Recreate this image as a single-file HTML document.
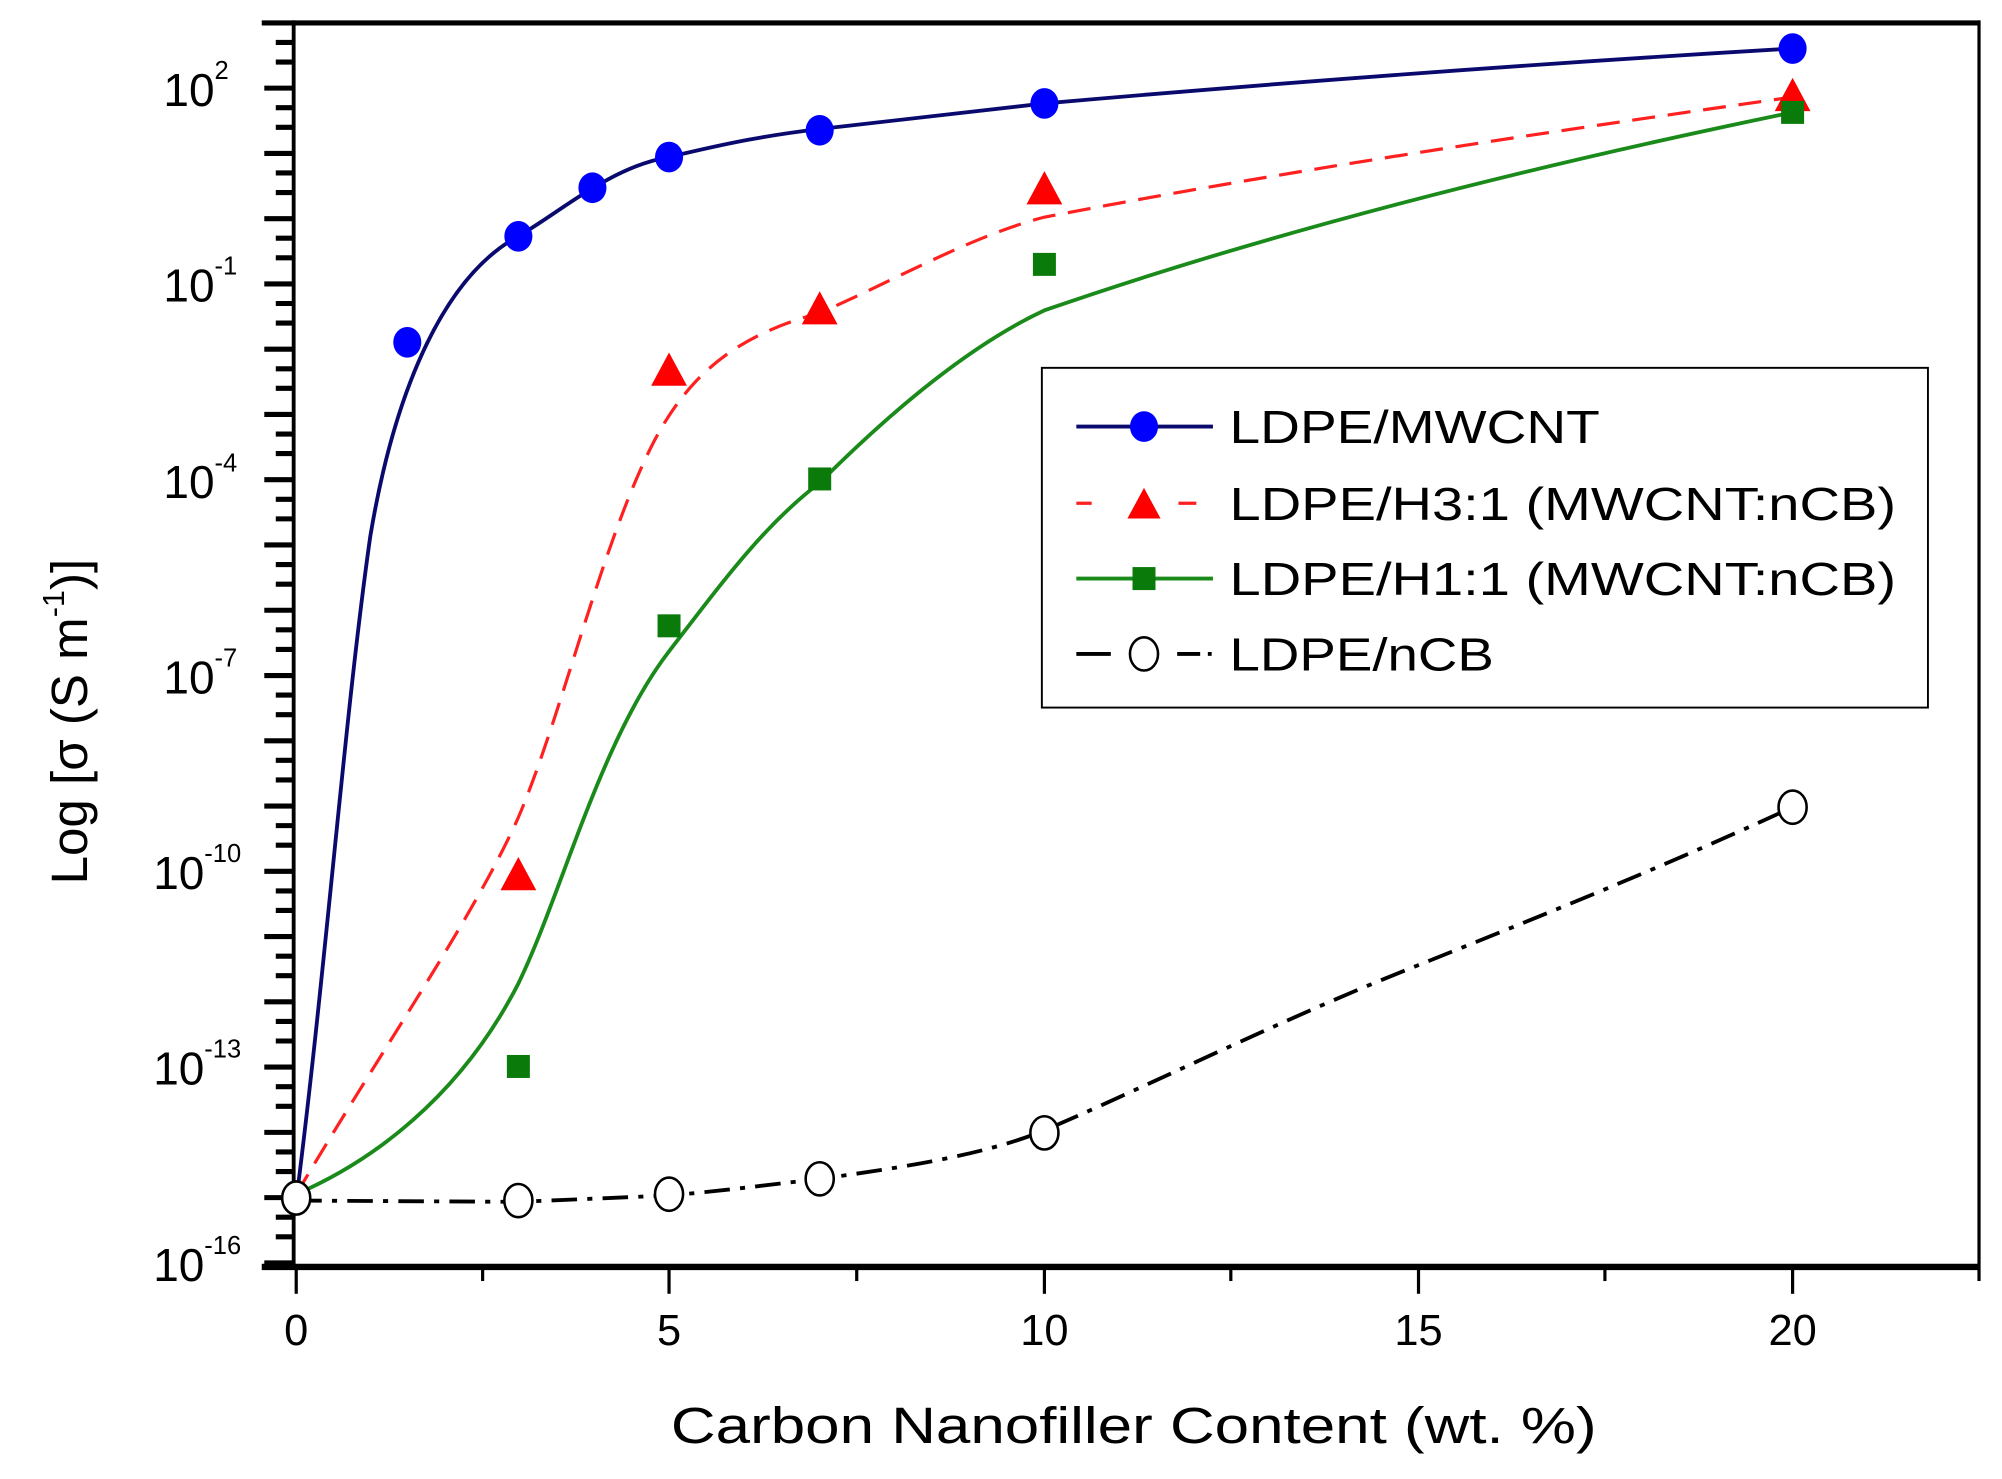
<!DOCTYPE html>
<html><head><meta charset="utf-8"><style>html,body{margin:0;padding:0;background:#fff}svg{display:block}</style></head>
<body>
<svg width="2002" height="1479" viewBox="0 0 1568 1158" xmlns="http://www.w3.org/2000/svg" preserveAspectRatio="none" font-family="Liberation Sans, sans-serif">
<rect width="1568" height="1158" fill="#fff"/>
<line x1="205" y1="18" x2="1551" y2="18" stroke="#000" stroke-width="4"/>
<line x1="230" y1="16" x2="230" y2="994" stroke="#000" stroke-width="3"/>
<line x1="1550" y1="16" x2="1550" y2="1003" stroke="#000" stroke-width="2.5"/>
<line x1="205" y1="992" x2="1551" y2="992" stroke="#000" stroke-width="5"/>
<g stroke="#000" stroke-width="4" id="yt"></g>
<g stroke="#000" stroke-width="2.5">
<line x1="232" y1="992" x2="232" y2="1013"/><line x1="524" y1="992" x2="524" y2="1013"/><line x1="818" y1="992" x2="818" y2="1013"/><line x1="1111" y1="992" x2="1111" y2="1013"/><line x1="1404" y1="992" x2="1404" y2="1013"/>
<line x1="378" y1="992" x2="378" y2="1003"/><line x1="671" y1="992" x2="671" y2="1003"/><line x1="964" y1="992" x2="964" y2="1003"/><line x1="1257" y1="992" x2="1257" y2="1003"/>
</g>
<g font-size="34" text-anchor="middle" fill="#000">
<text x="232" y="1053">0</text><text x="524" y="1053">5</text><text x="818" y="1053">10</text><text x="1111" y="1053">15</text><text x="1404" y="1053">20</text>
</g>
<g font-size="36" fill="#000">
<text x="128" y="83">10</text><text x="168" y="62" font-size="20">2</text>
<text x="128" y="236">10</text><text x="168" y="215" font-size="20">-1</text>
<text x="128" y="390">10</text><text x="168" y="369" font-size="20">-4</text>
<text x="128" y="543">10</text><text x="168" y="522" font-size="20">-7</text>
<text x="120" y="696">10</text><text x="160" y="675" font-size="20">-10</text>
<text x="120" y="849">10</text><text x="160" y="828" font-size="20">-13</text>
<text x="120" y="1003">10</text><text x="160" y="982" font-size="20">-16</text>
</g>
<text x="888" y="1130" font-size="40" text-anchor="middle" textLength="725" lengthAdjust="spacingAndGlyphs">Carbon Nanofiller Content (wt. %)</text>
<text transform="translate(68,565) rotate(-90)" font-size="40" text-anchor="middle">Log [σ (S m<tspan font-size="24" dy="-18">-1</tspan><tspan dy="18">)]</tspan></text>

<path d="M232,940 C255,760 270,560 290,420 C310,300 350,215 406,185 C440,165 480,130 524,123 C570,112 600,106 642,101 C720,92 770,86 818,81 C1000,65 1200,50 1404,38" fill="none" stroke="#0a0a6e" stroke-width="3"/>
<path d="M232,935 C300,820 370,720 406,640 C440,560 470,430 510,350 C540,290 580,262 642,245 C700,220 760,185 818,170 C1000,135 1200,105 1404,76" fill="none" stroke="#ff2020" stroke-width="2.5" stroke-dasharray="18,10"/>
<path d="M232,935 C290,910 360,860 406,770 C440,700 470,580 524,510 C570,450 600,410 642,378 C700,320 760,270 818,243 C1000,180 1200,130 1404,88" fill="none" stroke="#1a8a1a" stroke-width="3"/>
<path d="M232,940 L406,941 L524,936 C560,933 600,928 642,923 C700,915 770,905 818,885 C900,850 1000,800 1100,760 C1200,720 1300,680 1404,632" fill="none" stroke="#000" stroke-width="3" stroke-dasharray="20,8,4,8"/>

<g fill="#0000ff">
<ellipse cx="319" cy="268" rx="11" ry="12"/><ellipse cx="406" cy="185" rx="11" ry="12"/><ellipse cx="464" cy="147" rx="11" ry="12"/><ellipse cx="524" cy="123" rx="11" ry="12"/><ellipse cx="642" cy="102" rx="11" ry="12"/><ellipse cx="818" cy="81" rx="11" ry="12"/><ellipse cx="1404" cy="38" rx="11" ry="12"/>
</g>
<g fill="#ff0000">
<polygon points="392,697 420,697 406,671"/><polygon points="510,302 538,302 524,276"/><polygon points="628,254 656,254 642,228"/><polygon points="804,160 832,160 818,134"/><polygon points="1390,87 1418,87 1404,61"/>
</g>
<g fill="#0a7a0a">
<rect x="397" y="826" width="18" height="18"/><rect x="515" y="481" width="18" height="18"/><rect x="633" y="366" width="18" height="18"/><rect x="809" y="198" width="18" height="18"/><rect x="1395" y="79" width="18" height="18"/>
</g>
<g fill="#fff" stroke="#000" stroke-width="2">
<ellipse cx="232" cy="938" rx="11" ry="13"/><ellipse cx="406" cy="940" rx="11" ry="13"/><ellipse cx="524" cy="935" rx="11" ry="13"/><ellipse cx="642" cy="923" rx="11" ry="13"/><ellipse cx="818" cy="887" rx="11" ry="13"/><ellipse cx="1404" cy="632" rx="11" ry="13"/>
</g>

<rect x="816" y="288" width="694" height="266" fill="#fff" stroke="#000" stroke-width="1.5"/>
<line x1="843" y1="334" x2="950" y2="334" stroke="#0a0a6e" stroke-width="3"/>
<ellipse cx="896" cy="334" rx="11" ry="12" fill="#0000ff"/>
<line x1="843" y1="394" x2="950" y2="394" stroke="#ff2020" stroke-width="2.5" stroke-dasharray="12,14,0,54,14,20"/>
<polygon points="883,406 909,406 896,382" fill="#ff0000"/>
<line x1="843" y1="453" x2="950" y2="453" stroke="#1a8a1a" stroke-width="3"/>
<rect x="887" y="444" width="18" height="18" fill="#0a7a0a"/>
<line x1="843" y1="512" x2="870" y2="512" stroke="#000" stroke-width="3"/>
<line x1="922" y1="512" x2="940" y2="512" stroke="#000" stroke-width="3"/>
<line x1="946" y1="512" x2="949" y2="512" stroke="#000" stroke-width="3"/>
<ellipse cx="896" cy="512" rx="11" ry="13" fill="#fff" stroke="#000" stroke-width="2"/>
<g font-size="36" fill="#000">
<text x="963" y="347" textLength="290" lengthAdjust="spacingAndGlyphs">LDPE/MWCNT</text>
<text x="963" y="407" textLength="522" lengthAdjust="spacingAndGlyphs">LDPE/H3:1 (MWCNT:nCB)</text>
<text x="963" y="466" textLength="522" lengthAdjust="spacingAndGlyphs">LDPE/H1:1 (MWCNT:nCB)</text>
<text x="963" y="525" textLength="207" lengthAdjust="spacingAndGlyphs">LDPE/nCB</text>
</g>

<script>
var ns="http://www.w3.org/2000/svg";
function Y(l){return 69+(2-l)*51.1;}
var yt=document.getElementById('yt');
function L(x1,y){var l=document.createElementNS(ns,'line');l.setAttribute('x1',x1);l.setAttribute('x2',230);l.setAttribute('y1',y);l.setAttribute('y2',y);yt.appendChild(l);}
for(var k=-16;k<=2;k++){L(207,Y(k));L(216,Y(k+0.4));L(216,Y(k+0.7));}
</script>
</svg>
</body></html>
